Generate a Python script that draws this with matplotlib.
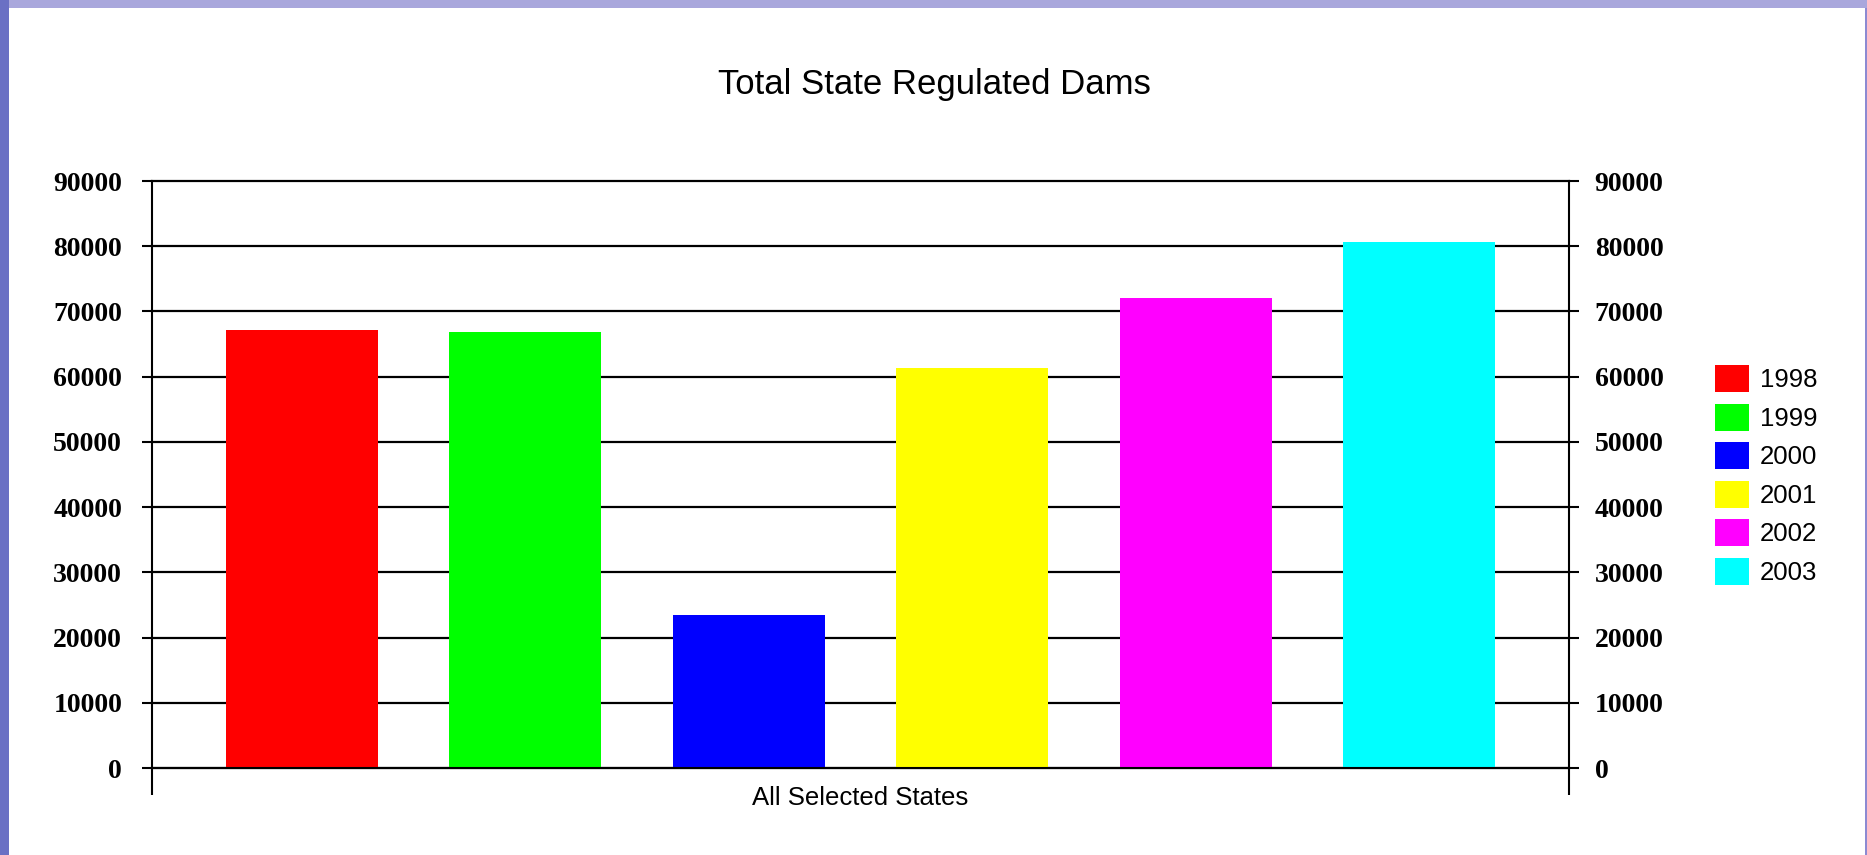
import matplotlib.pyplot as plt
from matplotlib.patches import Patch, Rectangle

# Dados
years = ['1998', '1999', '2000', '2001', '2002', '2003']
dams = [67200, 66800, 23500, 61300, 72000, 80600]
colors = ['#ff0000', '#00ff00', '#0000ff', '#ffff00', '#ff00ff', '#00ffff']
category = 'All Selected States'
yticks = [0, 10000, 20000, 30000, 40000, 50000, 60000, 70000, 80000, 90000]

W, H = 1867, 855
fig = plt.figure(figsize=(W / 100, H / 100), dpi=100)
fig.patch.set_facecolor('#8c8ad2')

# fundo do slide: faixas azuis e area branca
fig.patches.append(Rectangle((0, 1 - 8 / H), 1, 8 / H, transform=fig.transFigure,
                             facecolor='#a9a7dc', edgecolor='none', zorder=-2))
fig.patches.append(Rectangle((0, 0), 9 / W, 1, transform=fig.transFigure,
                             facecolor='#6a70c4', edgecolor='none', zorder=-2))
fig.patches.append(Rectangle((9 / W, 0), (1865 - 9) / W, 1 - 8 / H, transform=fig.transFigure,
                             facecolor='white', edgecolor='none', zorder=-1))

left, right, top, bottom = 152, 1569, 181, 768
ax = fig.add_axes([left / W, 1 - bottom / H, (right - left) / W, (bottom - top) / H])
ax.set_facecolor('none')

x = range(len(years))
ax.bar(x, dams, width=0.68, color=colors, zorder=2)

ax.set_xlim(-0.67, 5.67)
ax.set_ylim(0, 90000)
ax.set_yticks(yticks)
ax.set_yticklabels([str(v) for v in yticks], fontfamily='Liberation Serif',
                   fontweight='bold', fontsize=20)
ax.grid(axis='y', color='black', linewidth=1.6, zorder=1)
ax.set_axisbelow(True)
for gl in ax.get_ygridlines():
    gl.set_clip_on(False)

# rotulo da categoria e marcas longas nas bordas
ax.set_xticks([2.5])
ax.set_xticklabels([category], fontfamily='Liberation Sans', fontsize=18.5)
ax.tick_params(axis='x', which='major', length=0, pad=13)
ax.set_xticks([-0.67, 5.67], minor=True)
ax.tick_params(axis='x', which='minor', length=19.5, width=1.5, color='black')
ax.tick_params(axis='y', length=7.5, width=1.5, pad=14, color='black')

for s in ['top', 'right']:
    ax.spines[s].set_visible(False)
for s in ['left', 'bottom']:
    ax.spines[s].set_linewidth(1.5)

ax2 = ax.twinx()
ax2.set_ylim(0, 90000)
ax2.set_yticks(yticks)
ax2.set_yticklabels([str(v) for v in yticks], fontfamily='Liberation Serif',
                    fontweight='bold', fontsize=20)
ax2.tick_params(axis='y', length=7.5, width=1.5, pad=11, color='black')
for s in ['top', 'left', 'bottom']:
    ax2.spines[s].set_visible(False)
ax2.spines['right'].set_linewidth(1.5)

# titulo
fig.text(934 / W, 1 - 94 / H, 'Total State Regulated Dams', ha='center', va='baseline',
         fontfamily='Liberation Sans', fontsize=25)

# legenda
handles = [Patch(facecolor=c, edgecolor='none', label=y) for c, y in zip(colors, years)]
fig.legend(handles=handles, loc='upper left', bbox_to_anchor=(1715 / W, 1 - 365 / H),
           frameon=False, prop={'family': 'Liberation Sans', 'size': 18.5},
           handlelength=1.32, handleheight=1.25, handletextpad=0.43,
           labelspacing=0.44, borderpad=0, borderaxespad=0)

fig.savefig('out.png', dpi=100)
